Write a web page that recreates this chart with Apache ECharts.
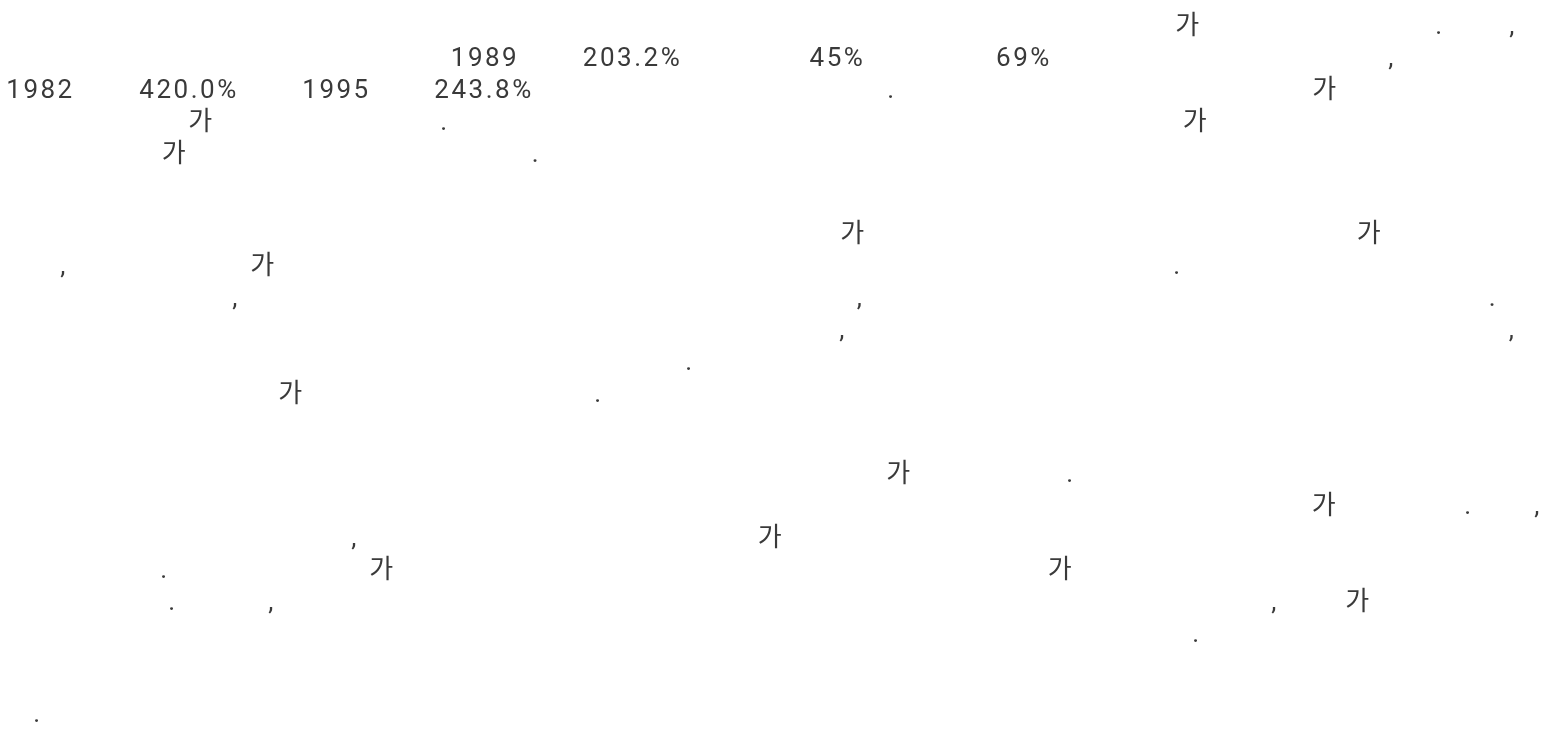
<!DOCTYPE html>
<html>
<head>
<meta charset="utf-8">
<script src="https://cdn.jsdelivr.net/npm/echarts@6/dist/echarts.min.js"></script>
<style>
html,body{margin:0;padding:0;background:#ffffff;}
#c{width:1543px;height:735px;}
</style>
</head>
<body>
<div id="c"></div>
<script>
// ---- values ----
const years  = ['1982', '1995', '1989'];
const ratios = ['420.0%', '243.8%', '203.2%'];
const shares = ['45%', '69%'];
const GA = '가', DOT = '.', COMMA = ',';

// ---- layout: paragraphs -> lines -> [token, centre x] ----
const paragraphs = [
  [
    [[GA, 1188.5], [DOT, 1440], [COMMA, 1513]],
    [[years[2], 485], [ratios[2], 632.5], [shares[0], 837.5], [shares[1], 1024], [COMMA, 1392]],
    [[years[0], 40.5], [ratios[0], 189], [years[1], 336.5], [ratios[1], 484], [DOT, 892], [GA, 1325.5]],
    [[GA, 201.5], [DOT, 445], [GA, 1196]],
    [[GA, 175], [DOT, 536.5]]
  ],
  [
    [[GA, 853.5], [GA, 1370]],
    [[COMMA, 64], [GA, 263.5], [DOT, 1178]],
    [[COMMA, 236], [COMMA, 860.5], [DOT, 1493.5]],
    [[COMMA, 843], [COMMA, 1512.5]],
    [[DOT, 690]],
    [[GA, 291.5], [DOT, 599]]
  ],
  [
    [[GA, 899.5], [DOT, 1071]],
    [[GA, 1325], [DOT, 1469], [COMMA, 1538]],
    [[COMMA, 355], [GA, 771]],
    [[DOT, 165], [GA, 382.5], [GA, 1061]],
    [[DOT, 173], [COMMA, 272], [COMMA, 1275], [GA, 1358.5]],
    [[DOT, 1197]]
  ],
  [
    [[DOT, 38]]
  ]
];

const FIRST_BASELINE = 35, LINE_H = 32, PARA_GAP = 48, FONT_SIZE = 26, MID_OFFSET = 7.3;
const LETTER_SPACING = '2.5px';

// the reference text is slightly letter-spaced; apply it to every canvas text draw
(function () {
  const P = CanvasRenderingContext2D.prototype;
  const origFill = P.fillText;
  P.fillText = function () {
    if ('letterSpacing' in this) this.letterSpacing = LETTER_SPACING;
    return origFill.apply(this, arguments);
  };
})();

const chart = echarts.init(document.getElementById('c'), null, {renderer: 'canvas', width: 1543, height: 735});

const elements = [];
let lineIndex = 0;
paragraphs.forEach(function (para, pi) {
  para.forEach(function (line) {
    const baseline = FIRST_BASELINE + lineIndex * LINE_H + pi * PARA_GAP;
    line.forEach(function (tok) {
      elements.push({
        type: 'text',
        x: tok[1],
        y: baseline - MID_OFFSET,
        silent: true,
        style: {
          text: tok[0],
          fill: '#3a3a3a',
          fontSize: FONT_SIZE,
          fontFamily: 'Roboto, "Noto Sans CJK KR", sans-serif',
          align: 'center',
          verticalAlign: 'middle'
        }
      });
    });
    lineIndex++;
  });
});

chart.setOption({
  animation: false,
  backgroundColor: '#ffffff',
  graphic: {elements: elements}
});
</script>
</body>
</html>
